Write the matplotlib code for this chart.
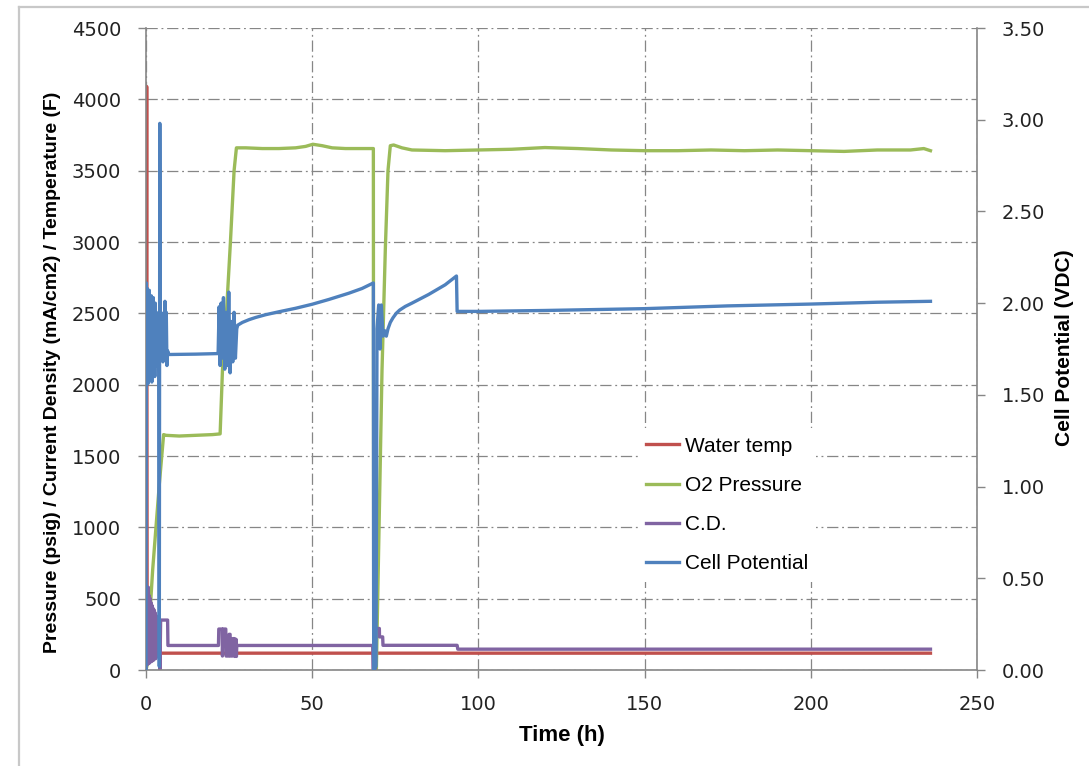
import matplotlib
matplotlib.use("Agg")
import matplotlib.pyplot as plt
from matplotlib.lines import Line2D
from matplotlib.ticker import MultipleLocator, FormatStrFormatter

# Water temp (F), left axis
temp_t = [0, 0.2, 0.35, 0.9, 50, 100, 150, 200, 236]
temp_v = [118, 4090, 118, 118, 118, 118, 118, 118, 118]

# O2 pressure (psig), left axis
o2_t = [0, 0.5, 1.2, 2, 3, 4, 5.3, 6, 10, 15, 20, 22.3, 23.0, 24.2, 25.4, 26.5, 27.2,
        30, 35, 40, 45, 48, 50.2, 53, 56, 60, 65, 68.4, 68.5, 69.3, 71.0, 72.0, 72.8, 73.5,
        74.5, 77, 80, 90, 100, 110, 120, 130, 140, 150, 160, 170, 180, 190, 200, 210, 220,
        230, 234, 236]
o2_v = [0, 50, 400, 700, 1000, 1300, 1650, 1645, 1640, 1645, 1650, 1655, 2100, 2500, 3000,
        3500, 3660, 3660, 3655, 3655, 3660, 3670, 3685, 3675, 3660, 3655, 3655, 3655, 0, 0,
        2100, 2950, 3500, 3675, 3680, 3660, 3645, 3640, 3645, 3650, 3662, 3655, 3645, 3640,
        3640, 3645, 3640, 3645, 3640, 3635, 3645, 3645, 3655, 3640]

# Current density (mA/cm2), left axis
cd_t = [0, 0.1, 0.25, 0.4, 0.55, 0.7, 0.85, 1.0, 1.15, 1.3, 1.45, 1.6, 1.75, 1.9, 2.05, 2.2,
        2.35, 2.5, 2.65, 2.8, 2.95, 3.1, 3.25, 3.4, 3.6, 3.8, 4.0, 4.2, 4.4, 6.5, 6.6, 21.8,
        21.9, 22.9, 23.0, 23.2, 24.0, 24.1, 24.9, 25.0, 25.3, 25.4, 26.0, 26.1, 26.6, 26.7,
        27.1, 27.2, 27.3, 68.2, 68.3, 69.0, 69.05, 70.2, 70.25, 71.2, 71.3, 93.6, 93.8, 236]
cd_v = [0, 590, 60, 560, 40, 580, 80, 520, 50, 500, 90, 470, 60, 450, 100, 430, 70, 420, 110,
        400, 80, 380, 120, 360, 100, 340, 200, 0, 350, 350, 172, 172, 287, 287, 98, 287, 287,
        98, 98, 250, 250, 98, 98, 220, 220, 95, 215, 95, 172, 172, 0, 0, 291, 291, 232, 232,
        173, 173, 146, 146]

# Cell potential (VDC), right axis
cell_t = [0, 0.1, 0.25, 0.4, 0.55, 0.7, 0.85, 1.0, 1.15, 1.3, 1.45, 1.6, 1.75, 1.9, 2.05,
          2.2, 2.35, 2.5, 2.65, 2.8, 2.95, 3.1, 3.25, 3.4, 3.55, 3.7, 3.85, 4.0, 4.15, 4.3,
          4.5, 4.7, 4.9, 5.1, 5.3, 5.5, 5.7, 5.9, 6.1, 6.3, 6.5, 6.8, 15, 21.6,
          21.7, 22.0, 22.3, 22.6, 22.9, 23.3, 23.7, 24.1, 24.5, 24.9, 25.3, 25.7, 26.1, 26.5,
          26.9, 27.3, 27.6, 29, 31, 33, 36, 40, 45, 50, 55, 61, 65, 68.4, 68.5, 69.2, 69.5,
          70.0, 70.4, 70.8, 71.3, 71.8, 72.3, 72.8, 73.5, 74.3, 75.3, 76.3, 78, 80, 85, 90,
          93.4, 93.6, 100, 120, 150, 175, 200, 220, 236]
cell_v = [0.0, 2.11, 1.60, 2.08, 1.56, 2.05, 1.62, 2.07, 1.58, 2.02, 1.65, 2.04, 1.57, 1.98,
          1.62, 2.03, 1.68, 1.97, 1.60, 2.00, 1.70, 1.95, 1.66, 1.92, 1.75, 1.90, 1.62, 0.02,
          2.98, 1.70, 1.95, 1.75, 1.88, 1.68, 1.92, 1.72, 2.01, 1.80, 1.95, 1.66, 1.74, 1.72,
          1.722, 1.725,
          1.73, 1.98, 1.66, 2.00, 1.70, 2.03, 1.64, 1.95, 1.66, 2.06, 1.62, 1.90, 1.68, 1.95,
          1.70, 1.86, 1.88, 1.895, 1.91, 1.922, 1.937, 1.953, 1.972, 1.994, 2.02, 2.054, 2.08,
          2.11, 0.0, 0.02, 1.86, 1.99, 1.75, 1.99, 1.82, 1.85, 1.82, 1.86, 1.895, 1.92, 1.945,
          1.962, 1.982, 2.0, 2.047, 2.10, 2.148, 1.955, 1.955, 1.96, 1.97, 1.985, 1.995, 2.005,
          2.01]

red = "#C0504D"
green = "#9BBB59"
purple = "#8064A2"
blue = "#4F81BD"
gray = "#868686"

fig = plt.figure(figsize=(10.89, 7.66), dpi=100)
ax = fig.add_axes([146 / 1089, 1 - 670 / 766, 831 / 1089, 642 / 766])
ax2 = ax.twinx()

ax.plot(temp_t, temp_v, color=red, lw=2.4, label="Water temp")
ax.plot(o2_t, o2_v, color=green, lw=2.4, label="O2 Pressure")
ax.plot(cd_t, cd_v, color=purple, lw=2.4, label="C.D.")
ax2.plot(cell_t, cell_v, color=blue, lw=2.4, label="Cell Potential")

ax.set_xlim(0, 250)
ax.set_ylim(0, 4500)
ax2.set_ylim(0, 3.5)
ax.xaxis.set_major_locator(MultipleLocator(50))
ax.yaxis.set_major_locator(MultipleLocator(500))
ax2.yaxis.set_major_locator(MultipleLocator(0.5))
ax2.yaxis.set_major_formatter(FormatStrFormatter("%.2f"))

dashdot = (0, (9, 3, 1.5, 3))
ax.grid(True, color=gray, lw=0.9, linestyle=dashdot)

for a in (ax, ax2):
    a.spines["top"].set_visible(False)
    for s in ("left", "right", "bottom"):
        a.spines[s].set_color(gray)
        a.spines[s].set_linewidth(1.2)
    a.tick_params(direction="out", length=6, width=1, color=gray, pad=12,
                  labelsize=14, labelcolor="#222222")
ax.spines["right"].set_visible(False)
ax2.spines["left"].set_visible(False)
ax2.spines["bottom"].set_visible(False)

label_font = ["Liberation Sans", "DejaVu Sans"]
fig.text(53 / 1089, 1 - 372 / 766, "Pressure (psig) / Current Density (mA/cm2) / Temperature (F)",
         rotation=90, ha="center", va="center", fontsize=14, fontweight="bold",
         family=label_font)
fig.text(1065 / 1089, 1 - 348 / 766, "Cell Potential (VDC)", rotation=90,
         ha="center", va="center", fontsize=15, fontweight="bold", family=label_font)
fig.text(562 / 1089, 1 - 735 / 766, "Time (h)", ha="center", va="center",
         fontsize=16, fontweight="bold", family=label_font)

h1, l1 = ax.get_legend_handles_labels()
h2, l2 = ax2.get_legend_handles_labels()
leg = ax2.legend(h1 + h2, l1 + l2, loc="center left",
                 bbox_to_anchor=(638 / 1089, 1 - 505 / 766), bbox_transform=fig.transFigure,
                 prop={"family": "Liberation Sans", "size": 15}, frameon=True,
                 fancybox=False, edgecolor="none", facecolor="white", framealpha=1,
                 handlelength=1.55, handletextpad=0.3, labelspacing=0.97, borderpad=0.4,
                 borderaxespad=0)
leg.set_zorder(10)

# outer chart frame
fig.add_artist(Line2D([19 / 1089, 19 / 1089], [0, 1 - 7 / 766], color="#c8c8c8", lw=1.6))
fig.add_artist(Line2D([19 / 1089, 1], [1 - 7 / 766, 1 - 7 / 766], color="#c8c8c8", lw=1.6))

fig.savefig("out.png", dpi=100)
